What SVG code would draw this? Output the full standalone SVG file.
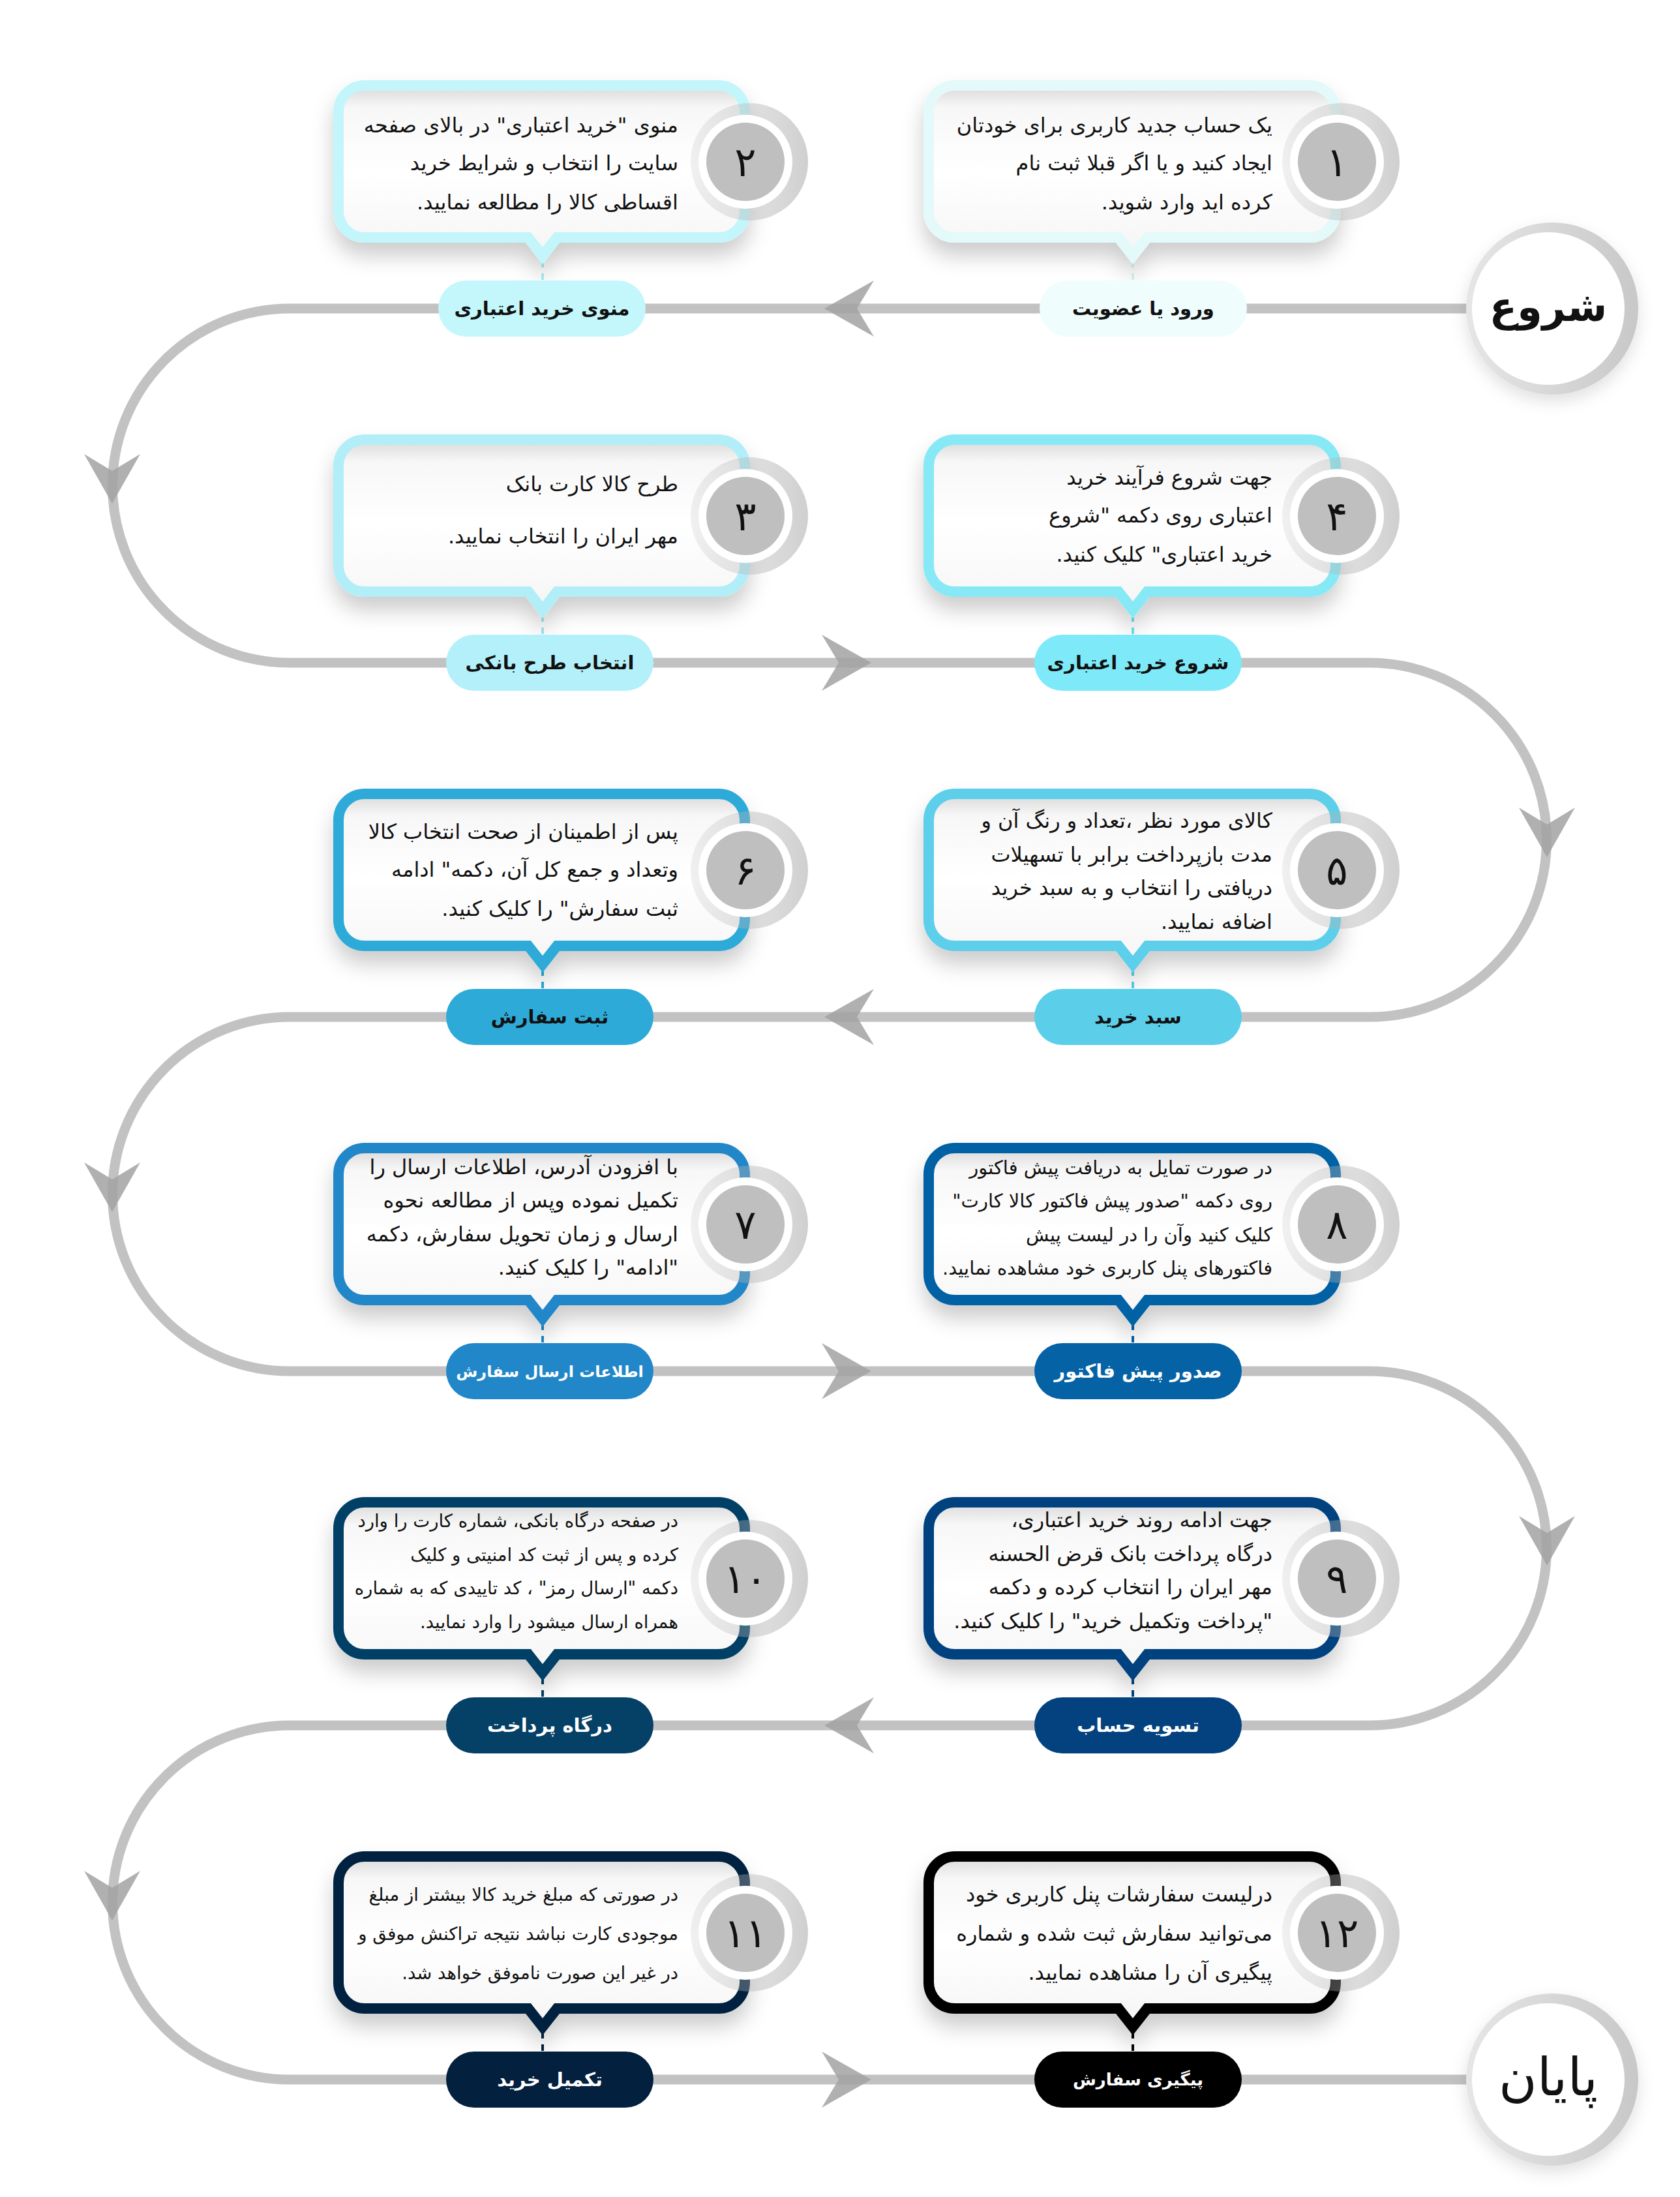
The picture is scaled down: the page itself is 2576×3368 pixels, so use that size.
<svg xmlns="http://www.w3.org/2000/svg" xmlns:xlink="http://www.w3.org/1999/xlink" width="2576" height="3368" viewBox="0 0 2576 3368">
<defs>
<style>
.flow{fill:none;stroke:#c3c2c2;stroke-width:15}
.arr{fill:#a2a2a2;fill-opacity:0.85}
.box{fill:url(#boxFill);stroke-width:16;filter:url(#shadow)}
.dash{stroke-width:4;stroke-dasharray:10 9}
.txt{font-family:"DejaVu Sans","Noto Sans",sans-serif;fill:#111;direction:rtl}
.body{font-size:32px;text-anchor:start}
.sm{font-size:27.5px}
.md{font-size:29px}
.pilltxt{font-family:"DejaVu Sans","Noto Sans",sans-serif;font-size:29px;font-weight:bold;text-anchor:middle;direction:rtl}
.dark{fill:#111}
.light{fill:#fff}
.halo{fill:url(#haloGrad)}
.ring{fill:#fff}
.disc{fill:#c0bfc0}
.num{font-family:"DejaVu Sans","Noto Sans",sans-serif;font-size:62px;fill:#111;text-anchor:middle}
.big{font-family:"DejaVu Sans","Noto Sans",sans-serif;fill:#111;text-anchor:middle;direction:rtl}
</style>
<linearGradient id="boxFill" x1="0" y1="0" x2="0" y2="1">
<stop offset="0" stop-color="#d9d9d9"/>
<stop offset="0.13" stop-color="#f7f7f7"/>
<stop offset="0.5" stop-color="#ffffff"/>
<stop offset="1" stop-color="#f5f5f5"/>
</linearGradient>
<linearGradient id="haloGrad" x1="0" y1="0" x2="1" y2="0">
<stop offset="0" stop-color="#bdbdbd" stop-opacity="0.22"/>
<stop offset="1" stop-color="#a8a8a8" stop-opacity="0.55"/>
</linearGradient>
<linearGradient id="bigHalo" x1="0" y1="0" x2="1" y2="0">
<stop offset="0" stop-color="#e6e6e6"/>
<stop offset="1" stop-color="#c8c8c8"/>
</linearGradient>
<filter id="shadow" x="-10%" y="-15%" width="120%" height="145%">
<feDropShadow dx="0" dy="20" stdDeviation="16" flood-color="#000" flood-opacity="0.2"/>
</filter>
<filter id="soft" x="-20%" y="-20%" width="140%" height="140%">
<feDropShadow dx="0" dy="10" stdDeviation="12" flood-color="#000" flood-opacity="0.12"/>
</filter>
<path id="boxL" d="M559,131 H1102 A40,40 0 0 1 1142,171 V324 A40,40 0 0 1 1102,364 H854 L832,392 L810,364 H559 A40,40 0 0 1 519,324 V171 A40,40 0 0 1 559,131 Z"/>
<path id="boxR" d="M1464,131 H2008 A40,40 0 0 1 2048,171 V324 A40,40 0 0 1 2008,364 H1759 L1737,392 L1715,364 H1464 A40,40 0 0 1 1424,324 V171 A40,40 0 0 1 1464,131 Z"/>
<path id="chev" d="M36,0 L-40,-43 L-14,0 L-40,43 Z"/>
</defs>
<rect width="2576" height="3368" fill="#ffffff"/>

<g id="connectors">
<path class="flow" d="M2250,473 H444 A271.5,271.5 0 0 0 444,1016 H2100 A271.5,271.5 0 0 1 2100,1559 H444 A271.5,271.5 0 0 0 444,2102 H2100 A271.5,271.5 0 0 1 2100,2645 H444 A271.5,271.5 0 0 0 444,3188 H2250"/>
<use href="#chev" class="arr" transform="translate(1300,473) rotate(180)"/>
<use href="#chev" class="arr" transform="translate(1300,1016)"/>
<use href="#chev" class="arr" transform="translate(1300,1559) rotate(180)"/>
<use href="#chev" class="arr" transform="translate(1300,2102)"/>
<use href="#chev" class="arr" transform="translate(1300,2645) rotate(180)"/>
<use href="#chev" class="arr" transform="translate(1300,3188)"/>
<use href="#chev" class="arr" transform="translate(172,736) rotate(90)"/>
<use href="#chev" class="arr" transform="translate(2372,1278) rotate(90)"/>
<use href="#chev" class="arr" transform="translate(172,1822) rotate(90)"/>
<use href="#chev" class="arr" transform="translate(2372,2364) rotate(90)"/>
<use href="#chev" class="arr" transform="translate(172,2908) rotate(90)"/>
<line class="dash" stroke="#d6f6f6" x1="1737" y1="400" x2="1737" y2="430"/>
<line class="dash" stroke="#a9eef6" x1="832" y1="400" x2="832" y2="430"/>
<line class="dash" stroke="#9fe6f2" x1="832" y1="943" x2="832" y2="973"/>
<line class="dash" stroke="#6edff0" x1="1737" y1="943" x2="1737" y2="973"/>
<line class="dash" stroke="#5ccfea" x1="1737" y1="1486" x2="1737" y2="1516"/>
<line class="dash" stroke="#2eaad8" x1="832" y1="1486" x2="832" y2="1516"/>
<line class="dash" stroke="#2187c8" x1="832" y1="2029" x2="832" y2="2059"/>
<line class="dash" stroke="#0562a5" x1="1737" y1="2029" x2="1737" y2="2059"/>
<line class="dash" stroke="#03437f" x1="1737" y1="2572" x2="1737" y2="2602"/>
<line class="dash" stroke="#053f66" x1="832" y1="2572" x2="832" y2="2602"/>
<line class="dash" stroke="#03203f" x1="832" y1="3115" x2="832" y2="3145"/>
<line class="dash" stroke="#000000" x1="1737" y1="3115" x2="1737" y2="3145"/>
</g>

<g id="start">
<circle cx="2380" cy="473" r="132" fill="url(#bigHalo)" filter="url(#soft)"/>
<circle cx="2374" cy="473" r="117" fill="#fff"/>
<text class="big" x="2374" y="492" font-size="62" font-weight="bold">شروع</text>
</g>
<g id="end">
<circle cx="2380" cy="3188" r="132" fill="url(#bigHalo)" filter="url(#soft)"/>
<circle cx="2374" cy="3188" r="117" fill="#fff"/>
<text class="big" x="2374" y="3212" font-size="80">پایان</text>
</g>

<g id="step1">
<use href="#boxR" class="box" stroke="#e4f9f9"/>
<text class="txt body" x="1951" y="203">یک حساب جدید کاربری برای خودتان</text>
<text class="txt body" x="1951" y="261">ایجاد کنید و یا اگر قبلا ثبت نام</text>
<text class="txt body" x="1951" y="321">کرده اید وارد شوید.</text>
<circle class="halo" cx="2056" cy="248" r="90"/><circle class="ring" cx="2050" cy="248" r="72"/><circle class="disc" cx="2050" cy="248" r="60"/>
<text class="num" x="2050" y="270">۱</text>
</g>
<g id="pill1">
<rect x="1594" y="430" width="318" height="86" rx="43" fill="#effdfd"/>
<text class="pilltxt dark" x="1753" y="483">ورود یا عضویت</text>
</g>

<g id="step2">
<use href="#boxL" class="box" stroke="#c2f6fb"/>
<text class="txt body" x="1040" y="203">منوی "خرید اعتباری" در بالای صفحه</text>
<text class="txt body" x="1040" y="261">سایت را انتخاب و شرایط خرید</text>
<text class="txt body" x="1040" y="321">اقساطی کالا را مطالعه نمایید.</text>
<circle class="halo" cx="1149" cy="248" r="90"/><circle class="ring" cx="1143" cy="248" r="72"/><circle class="disc" cx="1143" cy="248" r="60"/>
<text class="num" x="1143" y="270">۲</text>
</g>
<g id="pill2">
<rect x="672" y="430" width="318" height="86" rx="43" fill="#c3f7fb"/>
<text class="pilltxt dark" x="831" y="483">منوی خرید اعتباری</text>
</g>

<g id="step3">
<use href="#boxL" class="box" stroke="#b2eef8" y="543"/>
<text class="txt body" x="1040" y="753">طرح کالا کارت بانک</text>
<text class="txt body" x="1040" y="833">مهر ایران را انتخاب نمایید.</text>
<circle class="halo" cx="1149" cy="791" r="90"/><circle class="ring" cx="1143" cy="791" r="72"/><circle class="disc" cx="1143" cy="791" r="60"/>
<text class="num" x="1143" y="813">۳</text>
</g>
<g id="pill3">
<rect x="684" y="973" width="318" height="86" rx="43" fill="#b3f0f9"/>
<text class="pilltxt dark" x="843" y="1026">انتخاب طرح بانکی</text>
</g>

<g id="step4">
<use href="#boxR" class="box" stroke="#86e9f5" y="543"/>
<text class="txt body" x="1951" y="743">جهت شروع فرآیند خرید</text>
<text class="txt body" x="1951" y="801">اعتباری روی دکمه "شروع</text>
<text class="txt body" x="1951" y="861">خرید اعتباری" کلیک کنید.</text>
<circle class="halo" cx="2056" cy="791" r="90"/><circle class="ring" cx="2050" cy="791" r="72"/><circle class="disc" cx="2050" cy="791" r="60"/>
<text class="num" x="2050" y="813">۴</text>
</g>
<g id="pill4">
<rect x="1586" y="973" width="318" height="86" rx="43" fill="#7eeaf9"/>
<text class="pilltxt dark" x="1745" y="1026">شروع خرید اعتباری</text>
</g>

<g id="step5">
<use href="#boxR" class="box" stroke="#5dcfea" y="1086"/>
<text class="txt body" x="1951" y="1269">کالای مورد نظر ،تعداد و رنگ آن و</text>
<text class="txt body" x="1951" y="1321">مدت بازپرداخت برابر با تسهیلات</text>
<text class="txt body" x="1951" y="1372">دریافتی را انتخاب و به سبد خرید</text>
<text class="txt body" x="1951" y="1424">اضافه نمایید.</text>
<circle class="halo" cx="2056" cy="1334" r="90"/><circle class="ring" cx="2050" cy="1334" r="72"/><circle class="disc" cx="2050" cy="1334" r="60"/>
<text class="num" x="2050" y="1356">۵</text>
</g>
<g id="pill5">
<rect x="1586" y="1516" width="318" height="86" rx="43" fill="#5bcfea"/>
<text class="pilltxt dark" x="1745" y="1569">سبد خرید</text>
</g>

<g id="step6">
<use href="#boxL" class="box" stroke="#2eaad9" y="1086"/>
<text class="txt body" x="1040" y="1286">پس از اطمینان از صحت انتخاب کالا</text>
<text class="txt body" x="1040" y="1344">وتعداد و جمع کل آن، دکمه" ادامه</text>
<text class="txt body" x="1040" y="1404">ثبت سفارش" را کلیک کنید.</text>
<circle class="halo" cx="1149" cy="1334" r="90"/><circle class="ring" cx="1143" cy="1334" r="72"/><circle class="disc" cx="1143" cy="1334" r="60"/>
<text class="num" x="1143" y="1356">۶</text>
</g>
<g id="pill6">
<rect x="684" y="1516" width="318" height="86" rx="43" fill="#2eaad8"/>
<text class="pilltxt dark" x="843" y="1569">ثبت سفارش</text>
</g>

<g id="step7">
<use href="#boxL" class="box" stroke="#2187c8" y="1629"/>
<text class="txt body" x="1040" y="1800">با افزودن آدرس، اطلاعات ارسال را</text>
<text class="txt body" x="1040" y="1851">تکمیل نموده وپس از مطالعه نحوه</text>
<text class="txt body" x="1040" y="1903">ارسال و زمان تحویل سفارش، دکمه</text>
<text class="txt body" x="1040" y="1954">"ادامه" را کلیک کنید.</text>
<circle class="halo" cx="1149" cy="1877" r="90"/><circle class="ring" cx="1143" cy="1877" r="72"/><circle class="disc" cx="1143" cy="1877" r="60"/>
<text class="num" x="1143" y="1899">۷</text>
</g>
<g id="pill7">
<rect x="684" y="2059" width="318" height="86" rx="43" fill="#2187c8"/>
<text class="pilltxt light" x="843" y="2111" style="font-size:24px">اطلاعات ارسال سفارش</text>
</g>

<g id="step8">
<use href="#boxR" class="box" stroke="#0562a5" y="1629"/>
<text class="txt body md" x="1951" y="1800">در صورت تمایل به دریافت پیش فاکتور</text>
<text class="txt body md" x="1951" y="1851">روی دکمه "صدور پیش فاکتور کالا کارت"</text>
<text class="txt body md" x="1951" y="1903">کلیک کنید وآن را در لیست پیش</text>
<text class="txt body md" x="1951" y="1954">فاکتورهای پنل کاربری خود مشاهده نمایید.</text>
<circle class="halo" cx="2056" cy="1877" r="90"/><circle class="ring" cx="2050" cy="1877" r="72"/><circle class="disc" cx="2050" cy="1877" r="60"/>
<text class="num" x="2050" y="1899">۸</text>
</g>
<g id="pill8">
<rect x="1586" y="2059" width="318" height="86" rx="43" fill="#0562a5"/>
<text class="pilltxt light" x="1745" y="2112">صدور پیش فاکتور</text>
</g>

<g id="step9">
<use href="#boxR" class="box" stroke="#03437f" y="2172"/>
<text class="txt body" x="1951" y="2341">جهت ادامه روند خرید اعتباری،</text>
<text class="txt body" x="1951" y="2393">درگاه پرداخت بانک قرض الحسنه</text>
<text class="txt body" x="1951" y="2444">مهر ایران را انتخاب کرده و دکمه</text>
<text class="txt body" x="1951" y="2496">"پرداخت وتکمیل خرید" را کلیک کنید.</text>
<circle class="halo" cx="2056" cy="2420" r="90"/><circle class="ring" cx="2050" cy="2420" r="72"/><circle class="disc" cx="2050" cy="2420" r="60"/>
<text class="num" x="2050" y="2442">۹</text>
</g>
<g id="pill9">
<rect x="1586" y="2602" width="318" height="86" rx="43" fill="#03427f"/>
<text class="pilltxt light" x="1745" y="2655">تسویه حساب</text>
</g>

<g id="step10">
<use href="#boxL" class="box" stroke="#053f66" y="2172"/>
<text class="txt body sm" x="1040" y="2341">در صفحه درگاه بانکی، شماره کارت را وارد</text>
<text class="txt body sm" x="1040" y="2393">کرده و پس از ثبت کد امنیتی و کلیک</text>
<text class="txt body sm" x="1040" y="2444">دکمه "ارسال رمز" ، کد تاییدی که به شماره</text>
<text class="txt body sm" x="1040" y="2496">همراه ارسال میشود را وارد نمایید.</text>
<circle class="halo" cx="1149" cy="2420" r="90"/><circle class="ring" cx="1143" cy="2420" r="72"/><circle class="disc" cx="1143" cy="2420" r="60"/>
<text class="num" x="1143" y="2442">۱۰</text>
</g>
<g id="pill10">
<rect x="684" y="2602" width="318" height="86" rx="43" fill="#054066"/>
<text class="pilltxt light" x="843" y="2655">درگاه پرداخت</text>
</g>

<g id="step11">
<use href="#boxL" class="box" stroke="#03203f" y="2715"/>
<text class="txt body sm" x="1040" y="2914">در صورتی که مبلغ خرید کالا بیشتر از مبلغ</text>
<text class="txt body sm" x="1040" y="2974">موجودی کارت نباشد نتیجه تراکنش موفق و</text>
<text class="txt body sm" x="1040" y="3034">در غیر این صورت ناموفق خواهد شد.</text>
<circle class="halo" cx="1149" cy="2963" r="90"/><circle class="ring" cx="1143" cy="2963" r="72"/><circle class="disc" cx="1143" cy="2963" r="60"/>
<text class="num" x="1143" y="2985">۱۱</text>
</g>
<g id="pill11">
<rect x="684" y="3145" width="318" height="86" rx="43" fill="#03203f"/>
<text class="pilltxt light" x="843" y="3198">تکمیل خرید</text>
</g>

<g id="step12">
<use href="#boxR" class="box" stroke="#000000" y="2715"/>
<text class="txt body" x="1951" y="2915">درلیست سفارشات پنل کاربری خود</text>
<text class="txt body" x="1951" y="2975">می‌توانید سفارش ثبت شده و شماره</text>
<text class="txt body" x="1951" y="3035">پیگیری آن را مشاهده نمایید.</text>
<circle class="halo" cx="2056" cy="2963" r="90"/><circle class="ring" cx="2050" cy="2963" r="72"/><circle class="disc" cx="2050" cy="2963" r="60"/>
<text class="num" x="2050" y="2985">۱۲</text>
</g>
<g id="pill12">
<rect x="1586" y="3145" width="318" height="86" rx="43" fill="#000000"/>
<text class="pilltxt light" x="1745" y="3197" style="font-size:26px">پیگیری سفارش</text>
</g>
</svg>
